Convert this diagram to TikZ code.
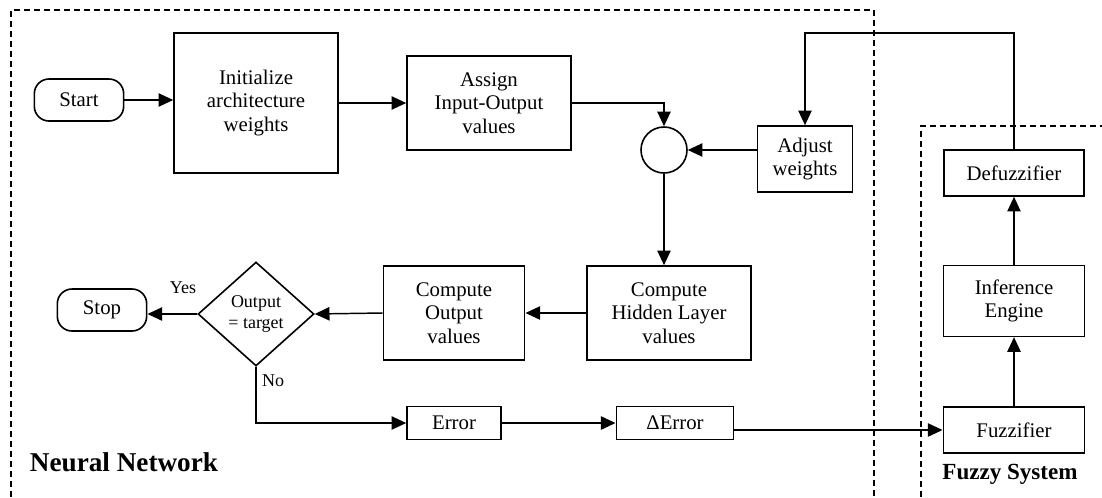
\documentclass[tikz,border=0pt]{standalone}
\usepackage{fontspec}
\setmainfont{Liberation Serif}
\usetikzlibrary{shapes.geometric,arrows.meta}

\tikzset{
  box/.style={draw,line width=1.2pt,inner sep=0pt,align=center,
    font=\fontsize{15.6}{17.8}\selectfont},
  term/.style={box,rounded corners=11pt,minimum width=67pt,minimum height=31.5pt},
  arr/.style={line width=1.1pt,-{Triangle[length=11pt,width=10pt]}},
  small/.style={font=\fontsize{13.5}{15.4}\selectfont},
  region/.style={line width=1pt,dash pattern=on 4.5pt off 3pt}
}

\begin{document}
\begin{tikzpicture}[x=0.75pt,y=-0.75pt]
\useasboundingbox (0,0) rectangle (1102,497);

% Regions
\draw[region] (11,497) -- (11,10) -- (874,10) -- (874,497);
\draw[region] (921,497) -- (921,126) -- (1102,126);

% Training loop
\node[term] (start) at (79,100) {Start};
\node[box,minimum width=123pt,minimum height=105pt] (init) at (256,103) {Initialize\\architecture\\weights};
\node[box,minimum width=123pt,minimum height=70.5pt] (assign) at (489,103) {Assign\\Input-Output\\values};
\node[circle,draw,line width=1.2pt,minimum size=34.5pt,inner sep=0pt] (sum) at (664,150) {};
\node[box,minimum width=71pt,minimum height=49.5pt] (adjust) at (805,159) {Adjust\\weights};
\node[box,minimum width=123pt,minimum height=70.5pt] (hidden) at (669,313) {Compute\\Hidden Layer\\values};
\node[box,minimum width=106pt,minimum height=70.5pt] (output) at (454,313) {Compute\\Output\\values};
\node[diamond,draw,line width=1.2pt,inner sep=0pt,minimum width=87pt,minimum height=78pt,
  align=center,small] (check) at (256,314) {Output\\= target};
\node[term] (stop) at (102,310) {Stop};
\node[box,minimum width=70.5pt,minimum height=25pt] (error) at (454,423) {Error};
\node[box,minimum width=88pt,minimum height=25pt] (derror) at (675,423) {ΔError};

% Fuzzy part
\node[box,minimum width=105pt,minimum height=34.5pt] (defuzz) at (1014,173) {Defuzzifier};
\node[box,minimum width=106pt,minimum height=53pt] (infer) at (1014,301) {Inference\\Engine};
\node[box,minimum width=106pt,minimum height=34.5pt] (fuzz) at (1014,430) {Fuzzifier};

% Connections
\draw[arr] (start) -- (start -| init.west);
\draw[arr] (init.east) -- (assign.west);
\draw[arr] (assign.east) -| (sum.north);
\draw[arr] (sum.east -| adjust.west) -- (sum.east);
\draw[arr] (sum.south) -- (sum.south |- hidden.north);
\draw[arr] (hidden.west) -- (output.east);
\draw[arr] (output.west) -- (check.east);
\draw[arr] (check.west) -- (check.west -| stop.east);
\draw[arr] (check.south) |- (error.west);
\draw[arr] (error.east) -- (derror.west);
\draw[arr] (derror.east |- fuzz.west) -- (fuzz.west);
\draw[arr] (fuzz.north) -- (infer.south);
\draw[arr] (infer.north) -- (defuzz.south);
\coordinate (fb) at (1014,33);
\draw[arr] (defuzz.north) -- (fb) -| (adjust.north);

% Labels
\node[small] (yes) at (183,288) {Yes};
\node[small] (no) at (273,381) {No};
\node[font=\fontsize{20.4}{24}\selectfont\bfseries] (nn) at (124,462) {Neural Network};
\node[font=\fontsize{17.3}{20}\selectfont\bfseries] (fs) at (1010,474) {Fuzzy System};

\end{tikzpicture}
\end{document}
